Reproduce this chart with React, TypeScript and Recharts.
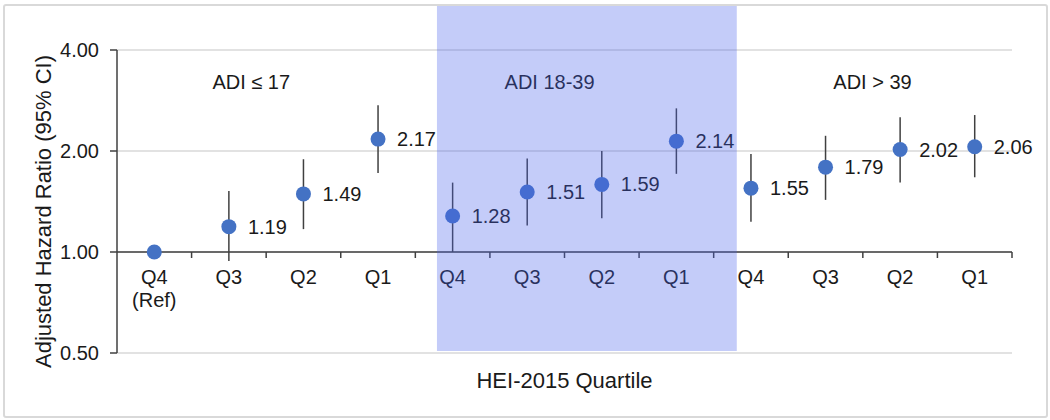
import React from 'react';
import {
  ScatterChart,
  Scatter,
  XAxis,
  YAxis,
  CartesianGrid,
  ErrorBar,
  ReferenceArea,
  ReferenceLine,
  ReferenceDot,
} from 'recharts';

// HEI-2015 quartile per point, grouped by ADI tertile
const quartiles = ['Q4', 'Q3', 'Q2', 'Q1', 'Q4', 'Q3', 'Q2', 'Q1', 'Q4', 'Q3', 'Q2', 'Q1'];
const hazardRatio = [1.0, 1.19, 1.49, 2.17, 1.28, 1.51, 1.59, 2.14, 1.55, 1.79, 2.02, 2.06];
const ciLow = [1.0, 0.94, 1.17, 1.72, 1.0, 1.2, 1.26, 1.71, 1.23, 1.43, 1.61, 1.67];
const ciHigh = [1.0, 1.52, 1.89, 2.74, 1.61, 1.9, 2.0, 2.68, 1.96, 2.22, 2.52, 2.56];
const groupLabels = ['ADI ≤ 17', 'ADI 18-39', 'ADI > 39'];
const yTicks = [0.5, 1, 2, 4];

const FONT = '"Liberation Sans", Arial, sans-serif';
const TEXT = '#1a1a1a';
const AXIS = '#404040';
const DOT = '#4472C4';

const W = 1050;
const H = 420;
const MARGIN = { top: 50, right: 38, bottom: 0, left: 0 };
const Y_AXIS_W = 117;
const X_AXIS_H = 67;
const PLOT_H = H - MARGIN.top - X_AXIS_H;
const Y_MIN = 0.5;
const Y_MAX = 4;
// x axis crosses at HR = 1, so lift tick labels from the plot bottom up to that line
const AXIS_LIFT = (PLOT_H * Math.log(1 / Y_MIN)) / Math.log(Y_MAX / Y_MIN);

const groupLabelX = [1.3, 5.3, 9.63];
const groupLabelY = 3.21;
const band = { x1: 3.79, x2: 7.81, y1: 0.507, y2: 5.45 };

const data = hazardRatio.map((hr, i) => ({
  x: i,
  hr,
  err: [hr - ciLow[i], ciHigh[i] - hr],
  label: i === 0 ? '' : hr.toFixed(2),
}));

const xTicks = quartiles.flatMap((_, i) => [i, i + 0.5]);

function QuartileTick(props: any) {
  const { x, y, payload } = props;
  const v = payload.value as number;
  const y0 = y - AXIS_LIFT;
  if (!Number.isInteger(v)) {
    return <line x1={x} x2={x} y1={y0} y2={y0 + 6} stroke={AXIS} strokeWidth={1.5} />;
  }
  const lines = v === 0 ? [quartiles[v], '(Ref)'] : [quartiles[v]];
  return (
    <text x={x} y={y0 + 32} textAnchor="middle" fontSize={20} fill={TEXT} fontFamily={FONT}>
      {lines.map((l, i) => (
        <tspan key={i} x={x} dy={i ? 23 : 0}>
          {l}
        </tspan>
      ))}
    </text>
  );
}

function PointShape(props: any) {
  const { cx, cy, payload } = props;
  return (
    <g>
      <circle cx={cx} cy={cy} r={7.5} fill={DOT} />
      {payload.label && (
        <text x={cx + 19} y={cy + 7} fontSize={20} fill={TEXT} fontFamily={FONT}>
          {payload.label}
        </text>
      )}
    </g>
  );
}

function YTitle(props: any) {
  const vb = props.viewBox;
  const cx = vb.x + 43;
  const cy = vb.y + vb.height / 2 + 10;
  return (
    <text
      x={cx}
      y={cy}
      transform={`rotate(-90, ${cx}, ${cy})`}
      textAnchor="middle"
      dominantBaseline="central"
      fontSize={22}
      fill={TEXT}
      fontFamily={FONT}
    >
      Adjusted Hazard Ratio (95% CI)
    </text>
  );
}

function XTitle(props: any) {
  const vb = props.viewBox;
  return (
    <text x={vb.x + vb.width / 2} y={vb.y + 35} textAnchor="middle" fontSize={22} fill={TEXT} fontFamily={FONT}>
      HEI-2015 Quartile
    </text>
  );
}

export default function App() {
  return (
    <div style={{ position: 'relative', width: W, height: H, fontFamily: FONT, background: '#fff' }}>
      <style>{'body{margin:0}'}</style>
      <ScatterChart width={W} height={H} margin={MARGIN}>
        <CartesianGrid vertical={false} stroke="#d9d9d9" strokeWidth={1.5} />
        <XAxis
          type="number"
          dataKey="x"
          domain={[-0.5, 11.5]}
          ticks={xTicks}
          interval={0}
          height={X_AXIS_H}
          axisLine={false}
          tickLine={false}
          tickSize={0}
          tickMargin={0}
          tick={<QuartileTick />}
          label={{ content: XTitle }}
        />
        <YAxis
          type="number"
          dataKey="hr"
          scale="log"
          domain={[Y_MIN, Y_MAX]}
          allowDataOverflow
          ticks={yTicks}
          interval={0}
          width={Y_AXIS_W}
          tickFormatter={(v: number) => v.toFixed(2)}
          tick={{ fontSize: 20, fill: TEXT, fontFamily: FONT }}
          tickSize={7}
          tickMargin={11}
          axisLine={{ stroke: AXIS, strokeWidth: 1.5 }}
          tickLine={{ stroke: AXIS, strokeWidth: 1.5 }}
          label={{ content: YTitle }}
        />
        <ReferenceLine y={1} stroke={AXIS} strokeWidth={1.5} />
        {groupLabels.map((g, i) => (
          <ReferenceDot
            key={g}
            x={groupLabelX[i]}
            y={groupLabelY}
            r={0}
            stroke="none"
            fill="none"
            ifOverflow="visible"
            label={{ value: g, position: 'center', fontSize: 20, fill: TEXT, fontFamily: FONT }}
          />
        ))}
        <Scatter data={data} shape={<PointShape />} isAnimationActive={false}>
          <ErrorBar dataKey="err" direction="y" width={0} stroke={AXIS} strokeWidth={1.5} isAnimationActive={false} />
        </Scatter>
        <ReferenceArea
          x1={band.x1}
          x2={band.x2}
          y1={band.y1}
          y2={band.y2}
          ifOverflow="visible"
          fill="rgb(70,95,235)"
          fillOpacity={0.32}
          stroke="none"
          zIndex={2000}
        />
      </ScatterChart>
      <div
        style={{
          position: 'absolute',
          left: 3,
          top: 4,
          width: 1045,
          height: 414,
          border: '2px solid #d9d9d9',
          borderRadius: 3,
          boxSizing: 'border-box',
          pointerEvents: 'none',
        }}
      />
    </div>
  );
}
